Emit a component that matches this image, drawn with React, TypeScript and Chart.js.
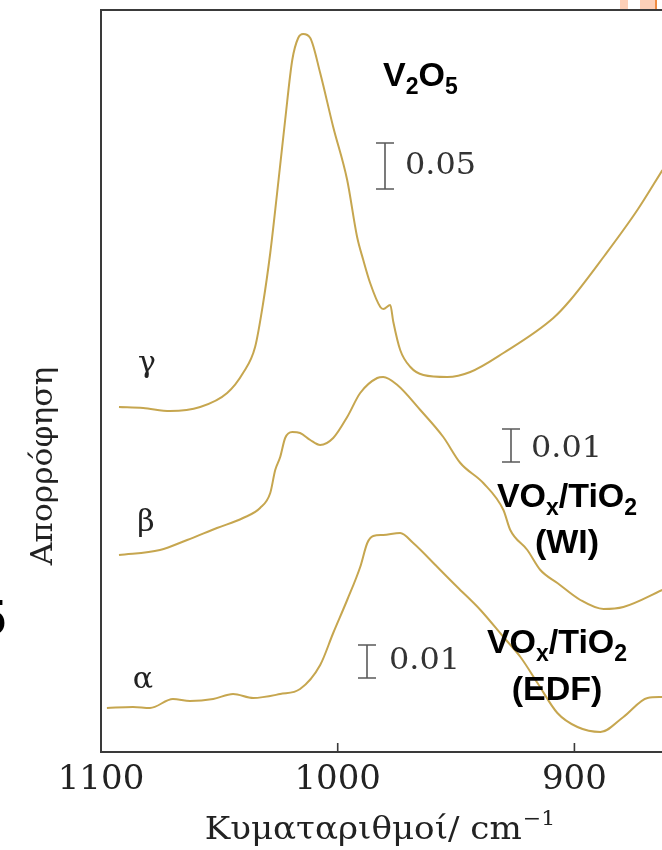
import React, { useEffect, useRef } from "react";
import { Chart, registerables } from "chart.js";

Chart.register(...registerables);

// ---- data (wavenumber in cm^-1, absorbance in arbitrary stacked units) ----
const gammaWavenumbers = [1092.4, 1082.2, 1070.8, 1058.1, 1046.7, 1040.0, 1034.9, 1031.5, 1028.5, 1025.6, 1022.2, 1019.2, 1016.7, 1014.6, 1011.6, 1007.4, 1001.9, 996.0, 991.8, 989.2, 986.3, 982.0, 980.7, 977.8, 976.5, 973.6, 969.3, 963.8, 953.7, 944.0, 930.0, 908.9, 901.7, 887.7, 873.4, 862.8];
const gammaValues = [345, 344, 341, 345, 359, 379, 405, 449, 499, 559, 632, 692, 714, 718, 714, 679, 625, 572, 515, 492, 469, 445, 443, 447, 430, 402, 385, 377, 375, 380, 399, 434, 452, 495, 542, 582];

const betaWavenumbers = [1092.4, 1075.1, 1063.6, 1051.0, 1040.0, 1032.8, 1028.5, 1026.4, 1024.3, 1022.2, 1019.2, 1015.9, 1011.6, 1007.4, 1001.9, 996.0, 990.5, 983.3, 980.8, 974.8, 965.1, 955.4, 948.2, 938.5, 930.0, 927.1, 919.9, 914.4, 907.2, 897.5, 887.7, 879.3, 862.8];
const betaValues = [197, 202, 212, 224, 234, 244, 259, 282, 295, 314, 320, 319, 312, 307, 314, 335, 359, 374, 375, 367, 342, 315, 289, 269, 242, 222, 202, 182, 169, 152, 143, 145, 162];

const alphaWavenumbers = [1097.5, 1086.5, 1079.3, 1069.6, 1062.4, 1052.6, 1044.2, 1035.7, 1024.3, 1015.9, 1007.4, 1001.9, 996.0, 990.5, 987.5, 985.0, 980.8, 973.6, 968.1, 957.9, 949.5, 939.7, 930.0, 922.8, 915.6, 907.2, 898.7, 889.0, 879.3, 869.1, 862.8];
const alphaValues = [44, 45, 44, 53, 51, 53, 58, 54, 58, 63, 87, 119, 152, 185, 209, 216, 217, 219, 209, 185, 165, 142, 115, 95, 69, 39, 25, 20, 35, 54, 55];

const xTickValues = [1100, 1000, 900];
const xMin = 863;
const xMax = 1100;
const yMin = 0;
const yMax = 742;

const curveLabels = ["γ", "β", "α"];
const yTitle = "Απορρόφηση";
const xTitle = "Κυματαριθμοί/ cm";
const xTitleSup = "−1";

const LINE_COLOR = "#c6a64f";
const SERIF = '"DejaVu Serif", serif';
const SANS = '"Liberation Sans", Arial, sans-serif';

type Seg = [string, boolean];

function drawRich(ctx: CanvasRenderingContext2D, segs: Seg[], x: number, y: number, size: number, align: "left" | "center") {
  const sub = Math.round(size * 0.68);
  const widths = segs.map(([t, s]) => {
    ctx.font = `bold ${s ? sub : size}px ${SANS}`;
    return ctx.measureText(t).width;
  });
  const total = widths.reduce((a, b) => a + b, 0);
  let cx = align === "center" ? x - total / 2 : x;
  ctx.textAlign = "left";
  ctx.textBaseline = "alphabetic";
  segs.forEach(([t, s], i) => {
    ctx.font = `bold ${s ? sub : size}px ${SANS}`;
    ctx.fillText(t, cx, s ? y + size * 0.24 : y);
    cx += widths[i];
  });
}

function drawStretched(ctx: CanvasRenderingContext2D, text: string, x: number, y: number, font: string, sx: number, align: CanvasTextAlign, baseline: CanvasTextBaseline) {
  ctx.save();
  ctx.translate(x, y);
  ctx.scale(sx, 1);
  ctx.font = font;
  ctx.textAlign = align;
  ctx.textBaseline = baseline;
  ctx.fillText(text, 0, 0);
  ctx.restore();
}

function scaleBar(ctx: CanvasRenderingContext2D, x: number, top: number, bottom: number, label: string, tx: number, ty: number) {
  ctx.save();
  ctx.strokeStyle = "#5a5a5a";
  ctx.lineWidth = 1.6;
  ctx.beginPath();
  ctx.moveTo(x, top);
  ctx.lineTo(x, bottom);
  ctx.moveTo(x - 9, top);
  ctx.lineTo(x + 9, top);
  ctx.moveTo(x - 9, bottom);
  ctx.lineTo(x + 9, bottom);
  ctx.stroke();
  ctx.fillStyle = "#333";
  drawStretched(ctx, label, tx, ty, `29px ${SERIF}`, 1.1, "left", "middle");
  ctx.restore();
}

const decorPlugin = {
  id: "decor",
  afterDraw(chart: any) {
    const { ctx, chartArea: a, scales } = chart;
    const xs = scales.x;
    ctx.save();
    // frame
    ctx.strokeStyle = "#3a3a3a";
    ctx.lineWidth = 2;
    ctx.beginPath();
    ctx.moveTo(a.right + 2, a.top);
    ctx.lineTo(a.left, a.top);
    ctx.lineTo(a.left, a.bottom);
    ctx.lineTo(a.right + 2, a.bottom);
    ctx.stroke();
    // inward tick marks
    ctx.lineWidth = 1.6;
    ctx.beginPath();
    xTickValues.slice(1).forEach((v) => {
      const px = xs.getPixelForValue(v);
      ctx.moveTo(px, a.bottom);
      ctx.lineTo(px, a.bottom - 9);
    });
    ctx.stroke();

    // axis titles
    ctx.fillStyle = "#222";
    ctx.save();
    ctx.translate(44, 466);
    ctx.rotate(-Math.PI / 2);
    ctx.scale(1.08, 1);
    ctx.font = `29px ${SERIF}`;
    ctx.textAlign = "center";
    ctx.textBaseline = "middle";
    ctx.fillText(yTitle, 0, 0);
    ctx.restore();

    ctx.save();
    const sx = 1.1;
    ctx.font = `31px ${SERIF}`;
    const w1 = ctx.measureText(xTitle).width;
    ctx.font = `20px ${SERIF}`;
    const w2 = ctx.measureText(xTitleSup).width;
    const total = (w1 + w2 + 1) * sx;
    ctx.translate(380 - total / 2, 839);
    ctx.scale(sx, 1);
    ctx.textAlign = "left";
    ctx.textBaseline = "alphabetic";
    ctx.font = `31px ${SERIF}`;
    ctx.fillText(xTitle, 0, 0);
    ctx.font = `20px ${SERIF}`;
    ctx.fillText(xTitleSup, w1 + 1, -14);
    ctx.restore();

    // curve labels
    ctx.font = `30px ${SERIF}`;
    ctx.textAlign = "center";
    ctx.textBaseline = "alphabetic";
    ctx.fillText(curveLabels[0], 147, 372);
    ctx.fillText(curveLabels[1], 146, 531);
    ctx.fillText(curveLabels[2], 143, 688);

    // scale bars
    scaleBar(ctx, 385, 143, 189, "0.05", 405, 166);
    scaleBar(ctx, 511, 429, 462, "0.01", 531, 449);
    scaleBar(ctx, 367, 645, 678, "0.01", 389, 661);

    // sample names
    ctx.fillStyle = "#000";
    drawRich(ctx, [["V", false], ["2", true], ["O", false], ["5", true]], 383, 86, 34, "left");
    drawRich(ctx, [["VO", false], ["x", true], ["/TiO", false], ["2", true]], 567, 507, 34, "center");
    drawRich(ctx, [["(WI)", false]], 567, 553, 34, "center");
    drawRich(ctx, [["VO", false], ["x", true], ["/TiO", false], ["2", true]], 557, 653, 34, "center");
    drawRich(ctx, [["(EDF)", false]], 557, 700, 34, "center");
    ctx.restore();
  },
};

function pts(xs: number[], ys: number[]) {
  return xs.map((x, i) => ({ x, y: ys[i] }));
}

export default function App() {
  const ref = useRef<HTMLCanvasElement>(null);

  useEffect(() => {
    if (!ref.current) return;
    const ds = (label: string, xs: number[], ys: number[]) => ({
      label,
      data: pts(xs, ys),
      borderColor: LINE_COLOR,
      borderWidth: 2,
      pointRadius: 0,
      fill: false,
      cubicInterpolationMode: "monotone" as const,
    });
    const chart = new Chart(ref.current, {
      type: "line",
      data: {
        datasets: [
          ds("γ", gammaWavenumbers, gammaValues),
          ds("β", betaWavenumbers, betaValues),
          ds("α", alphaWavenumbers, alphaValues),
        ],
      },
      options: {
        animation: false,
        responsive: false,
        devicePixelRatio: 1,
        layout: { padding: { top: 10, left: 0, right: 0, bottom: 0 } },
        plugins: { legend: { display: false }, tooltip: { enabled: false } },
        scales: {
          x: {
            type: "linear",
            reverse: true,
            min: xMin,
            max: xMax,
            grid: { display: false, drawTicks: false },
            border: { display: false },
            afterBuildTicks: (s: any) => {
              s.ticks = xTickValues.map((v) => ({ value: v }));
            },
            afterFit: (s: any) => {
              s.height = 98;
            },
            ticks: {
              autoSkip: false,
              maxRotation: 0,
              padding: 8,
              color: "#222",
              font: { family: "DejaVu Serif", size: 34 },
              callback: (v: any) => String(v),
            },
          },
          y: {
            type: "linear",
            min: yMin,
            max: yMax,
            grid: { display: false },
            border: { display: false },
            ticks: { display: false },
            afterFit: (s: any) => {
              s.width = 101;
            },
          },
        },
      },
      plugins: [decorPlugin],
    } as any);
    return () => chart.destroy();
  }, []);

  return (
    <div style={{ position: "absolute", left: 0, top: 0, width: 662, height: 850, background: "#fff", overflow: "hidden" }}>
      <canvas ref={ref} width={662} height={850} style={{ display: "block" }} />
      <div style={{ position: "absolute", left: 620, top: 0, width: 8, height: 9, background: "#fdd0b8" }} />
      <div style={{ position: "absolute", left: 640, top: 0, width: 17, height: 9, background: "#fdd0b8" }} />
      <div style={{ position: "absolute", left: 655, top: 0, width: 2, height: 9, background: "#f08a40" }} />
      <div style={{ position: "absolute", left: -22, top: 593, font: `bold 50px ${SANS}`, lineHeight: "1", color: "#000" }}>5</div>
    </div>
  );
}
